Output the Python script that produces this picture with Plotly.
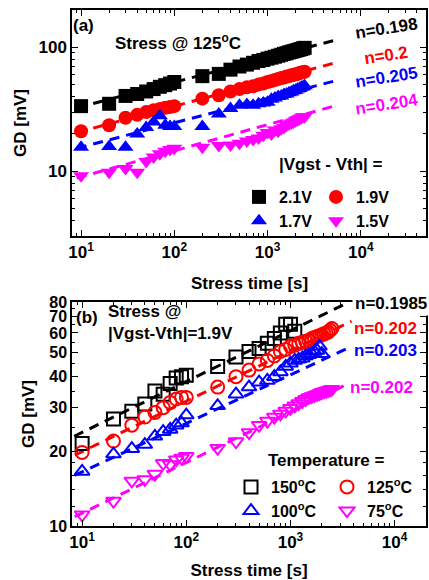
import plotly.graph_objects as go

# ---------------- data ----------------
# panel (a): stress @125C, four overdrive voltages
t_a = [10, 20, 30, 40, 50, 60, 70, 80, 90, 100,
       200, 300, 400, 500, 600, 700, 800, 900, 1000, 1100, 1200, 1300, 1400,
       1500, 1600, 1700, 1800, 1900, 2000, 2100, 2200, 2300, 2400, 2500]
gd_21 = [33.5, 35, 40.5, 42, 44, 46, 48, 49.5, 51, 52.5,
         58.5, 61, 66, 70, 72.5, 75, 77.5, 79, 81, 82.5, 84, 85.5, 87,
         88.5, 89.5, 91, 92, 93, 94, 95, 96, 97, 98, 99]
gd_19 = [21, 23.5, 27, 28.5, 30, 31, 31.8, 32.5, 33, 33.5,
         38.5, 41, 44, 46, 47.5, 48.5, 50, 51, 52.5, 53.5, 54.5, 55.5, 56.5,
         57, 58, 58.5, 59.5, 60, 60.5, 61, 62, 62.5, 63, 63.5]
gd_17 = [15.6, 15.8, 15.6, 20, 22.5, 25, 28, 23.5, 23, 23,
         23, 29, 32, 34, 34.5, 34, 35, 35.5, 36, 38, 39, 40, 40.5,
         41.5, 42, 43, 43.5, 44.5, 45, 46, 46.5, 47.5, 48, 49]
gd_15 = [9.2, 9.8, 10.5, 9.8, 12, 13, 13.8, 14.5, 15, 15.3,
         15.6, 16.1, 16.3, 16.8, 17.5, 18, 18.5, 19.5, 20.5, 20, 21.5, 21, 22,
         22.5, 23.5, 24, 24.5, 25, 25.5, 26, 26.5, 27, 27.5, 27.5]
labels_a = ["2.1V", "1.9V", "1.7V", "1.5V"]
n_a = ["n=0.198", "n=0.2", "n=0.205", "n=0.204"]
fit_t_a = [9, 5500]
fit_a = [[32.5, 115], [20.5, 75.5], [15.3, 54], [8.8, 34]]

# panel (b): stress @ |Vgst-Vth|=1.9V, four temperatures
t_150 = [10, 20, 30, 40, 50, 60, 70, 80, 90, 100,
         200, 300, 400, 500, 600, 700, 800, 900, 1000, 1100]
gd_150 = [21.5, 27, 29, 31, 35, 34, 37.5, 39.5, 40, 40.5,
          44, 48, 50.5, 52, 54.5, 57, 60, 65, 65, 61]
t_125 = [10, 20, 30, 40, 50, 60, 70, 80, 90, 100,
         200, 300, 400, 500, 600, 700, 800, 900, 1000,
         1100, 1200, 1300, 1400, 1500, 1600, 1700, 1800, 1900, 2000,
         2100, 2200, 2300, 2400, 2500]
gd_125 = [19.8, 22, 25.5, 27.5, 28.7, 30, 31.5, 32.5, 33, 33,
          36.3, 40, 42.5, 45, 46.5, 48.5, 50.5, 51.5, 53,
          53.5, 54.5, 55, 55.5, 56, 57, 57.5, 58, 58.5, 59,
          59.5, 60, 60.5, 61.5, 62.5]
t_100 = [10, 20, 30, 40, 50, 60, 70, 80, 90, 100,
         200, 300, 400, 500, 600, 700, 800, 900, 1000,
         1100, 1200, 1300, 1400, 1500, 1600, 1700, 1800, 1900, 2000]
gd_100 = [16.6, 19.5, 20.5, 21.3, 23, 24, 24.5, 25.5, 26, 28,
          30.5, 34, 36.3, 38, 38.6, 40, 41.8, 44, 45.3,
          46.5, 47, 47.5, 48.5, 49, 49.5, 50.5, 51, 53, 49.5]
t_75 = [10, 20, 30, 40, 50, 60, 70, 80, 90, 100,
        200, 300, 400, 500, 600, 700, 800, 900, 1000,
        1100, 1200, 1300, 1400, 1500, 1600, 1700, 1800, 1900, 2000,
        2100, 2200, 2300, 2400, 2500]
gd_75 = [11.1, 12.6, 15.2, 15.4, 16.2, 17.9, 17.7, 18.5, 18.8, 19.1,
         20.6, 21.9, 23.8, 25.5, 26.5, 27.5, 28.3, 29.1, 29.8,
         30.5, 31.2, 31.8, 32.4, 33, 33.3, 33.6, 33.9, 34.2, 34.6,
         34.8, 35, 35.2, 35.4, 35.6]
labels_b = ["150<sup>o</sup>C", "125<sup>o</sup>C", "100<sup>o</sup>C", "75<sup>o</sup>C"]
n_b = ["n=0.1985", "n=0.202", "n=0.203", "n=0.202"]
fit_t_b = [[8.4, 3300], [8.5, 3860], [8.5, 3860], [8.5, 3330]]
fit_b = [[23, 78.3], [19.3, 66.9], [16, 53], [10.9, 36.9]]

xtick_vals = [10, 100, 1000, 10000]
xtick_text = ["10<sup>1</sup>", "10<sup>2</sup>", "10<sup>3</sup>", "10<sup>4</sup>"]
ytick_a = [10, 100]
ytick_b = [10, 20, 30, 40, 50, 60, 70, 80]

# ---------------- style ----------------
W, H = 429, 580
ML, MR, MT, MB = 72, 3, 10, 54
PW, PH = W - ML - MR, H - MT - MB
FONT = "Liberation Sans"
colors = ["#000000", "#ff0000", "#0000ff", "#ff00ff"]
sym_a = ["square", "circle", "triangle-up", "triangle-down"]
sym_b = ["square-open", "circle-open", "triangle-up-open", "triangle-down-open"]


def px2x(px):
    return (px - ML) / PW


def py2y(py):
    return 1 - (py - MT) / PH


def bfont(size, color="black"):
    return dict(family=FONT, size=size, color=color, weight="bold")


fig = go.Figure()

# fit lines
for i in range(4):
    fig.add_trace(go.Scatter(x=fit_t_a, y=fit_a[i], mode="lines", xaxis="x", yaxis="y",
                             line=dict(color=colors[i], width=3, dash="10px,7px"),
                             showlegend=False, hoverinfo="skip"))
for i in range(4):
    fig.add_trace(go.Scatter(x=fit_t_b[i], y=fit_b[i], mode="lines", xaxis="x2", yaxis="y2",
                             line=dict(color=colors[i], width=3, dash="10px,7px"),
                             showlegend=False, hoverinfo="skip"))

# panel (a) markers
data_a = [gd_21, gd_19, gd_17, gd_15]
leg_a = ["legend", "legend2", "legend", "legend2"]
for i in range(4):
    fig.add_trace(go.Scatter(x=t_a, y=data_a[i], mode="markers", name=labels_a[i],
                             xaxis="x", yaxis="y", legend=leg_a[i],
                             marker=dict(symbol=sym_a[i], size=14, color=colors[i],
                                         line=dict(width=0))))

# panel (b) markers
data_b = [(t_150, gd_150), (t_125, gd_125), (t_100, gd_100), (t_75, gd_75)]
leg_b = ["legend3", "legend4", "legend3", "legend4"]
for i in range(4):
    fig.add_trace(go.Scatter(x=data_b[i][0], y=data_b[i][1], mode="markers", name=labels_b[i],
                             xaxis="x2", yaxis="y2", legend=leg_b[i],
                             marker=dict(symbol=sym_b[i], size=13, color=colors[i],
                                         line=dict(width=2, color=colors[i]))))

minor_x = [v * 10 ** k for k in range(0, 5) for v in range(2, 10)]
minor_ya = [3, 4, 5, 6, 7, 8, 9, 20, 30, 40, 50, 60, 70, 80, 90, 200]
minor_yb = [12, 14, 16, 18, 25, 35, 45, 55, 65, 75]

axis_common = dict(type="log", showline=True, linewidth=1.5, linecolor="black",
                   mirror="allticks", ticks="inside", ticklen=6, tickwidth=1.2,
                   tickcolor="black", showgrid=False, zeroline=False,
                   automargin=False)

dom_a = [py2y(236), 1.0]
dom_b = [0.0, py2y(302)]

fig.update_layout(
    width=W, height=H,
    margin=dict(l=ML, r=MR, t=MT, b=MB, autoexpand=False),
    paper_bgcolor="white", plot_bgcolor="white",
    xaxis=dict(**axis_common, domain=[0, 1], anchor="y", tickfont=bfont(17),
               range=[0.903, 4.699], tickmode="array",
               tickvals=xtick_vals, ticktext=xtick_text,
               minor=dict(tickvals=minor_x, ticks="inside", ticklen=3, tickcolor="black")),
    yaxis=dict(**axis_common, domain=dom_a, anchor="x", tickfont=bfont(17),
               range=[0.477, 2.301], tickmode="array", tickvals=ytick_a,
               ticktext=[str(v) for v in ytick_a],
               minor=dict(tickvals=minor_ya, ticks="inside", ticklen=3, tickcolor="black"),
               title=dict(text="GD [mV]", font=bfont(17), standoff=8)),
    xaxis2=dict(**axis_common, domain=[0, 1], anchor="y2", tickfont=bfont(17),
                range=[0.903, 4.301], tickmode="array",
                tickvals=xtick_vals, ticktext=xtick_text,
                minor=dict(tickvals=minor_x, ticks="inside", ticklen=3, tickcolor="black"),
                title=dict(text="Stress time [s]", font=bfont(17), standoff=15)),
    yaxis2=dict(**axis_common, domain=dom_b, anchor="x2", tickfont=bfont(16),
                range=[1.0, 1.903], tickmode="array", tickvals=ytick_b,
                ticktext=[str(v) for v in ytick_b],
                minor=dict(tickvals=minor_yb, ticks="inside", ticklen=3, tickcolor="black"),
                title=dict(text="GD [mV]", font=bfont(17), standoff=10)),
)

leg_style = dict(font=bfont(16), bgcolor="rgba(0,0,0,0)", borderwidth=0,
                 xanchor="left", yanchor="top", orientation="v",
                 itemwidth=30, tracegroupgap=0, itemclick=False)
# legend symbol sits 20 px right of the legend's left edge
fig.update_layout(
    legend=dict(**leg_style, x=px2x(259 - 20), y=py2y(180)),
    legend2=dict(**leg_style, x=px2x(336 - 20), y=py2y(180)),
    legend3=dict(**leg_style, x=px2x(251 - 20), y=py2y(470)),
    legend4=dict(**leg_style, x=px2x(347 - 20), y=py2y(470)),
)

ann = []


def add_text(text, px, py, size=17, color="black", xanchor="center", angle=0, bg=None, align="center"):
    d = dict(text=text, x=px2x(px), y=py2y(py), xref="paper", yref="paper",
             showarrow=False, xanchor=xanchor, yanchor="middle", textangle=angle,
             font=bfont(size, color), align=align)
    if bg:
        d["bgcolor"] = bg
        d["borderpad"] = 2
    ann.append(d)


# x-axis title of panel (a) (placed between the panels)
add_text("Stress time [s]", 249, 283, 17)
add_text("(a)", 83, 25, 17)
add_text("Stress @ 125<sup>o</sup>C", 113, 42, 17, xanchor="left")
add_text("|Vgst - Vth| =", 331, 164, 17)
add_text("Temperature =", 326, 460, 17)
ya_n = [29, 55, 77, 104]
for i in range(4):
    add_text(n_a[i], 386, ya_n[i], 17, colors[i], angle=-9)

add_text("(b)", 87, 317, 17)
add_text("Stress @<br>|Vgst-Vth|=1.9V", 106, 322, 17, xanchor="left", align="left")
yb_n = [303, 328, 350, 387]
xb_n = [352, 352, 352, 348]
for i in range(4):
    add_text(n_b[i], xb_n[i], yb_n[i], 17, colors[i], xanchor="left",
             bg="white" if i == 0 else None)

fig.update_layout(annotations=ann)

fig.write_html("out.html")
